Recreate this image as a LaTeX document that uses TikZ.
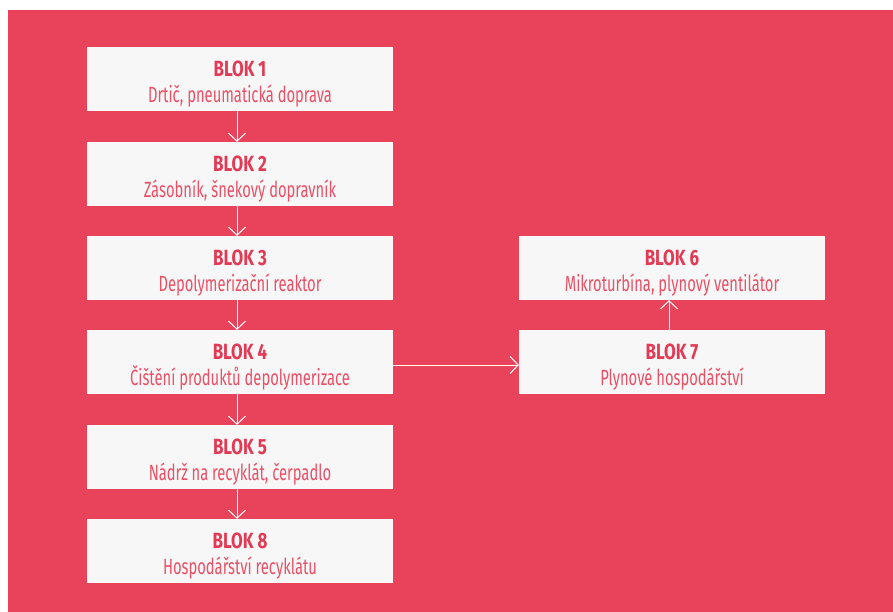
\documentclass[tikz,border=0pt]{standalone}
\usepackage{fontspec}
\setmainfont{Fira Sans}
\usetikzlibrary{arrows.meta}

\definecolor{bgred}{RGB}{232,67,90}
\definecolor{boxgrey}{RGB}{247,247,247}
\definecolor{titlered}{RGB}{226,58,84}
\definecolor{subred}{RGB}{234,80,102}

% condensed look for the box texts
\newcommand{\ttl}[1]{\rule{0pt}{26pt}\scalebox{0.77}[1]{\color{titlered}\bfseries #1}}
\newcommand{\sub}[1]{\scalebox{0.67}[1]{\color{subred}#1}}

\begin{document}
\begin{tikzpicture}[
    x=1pt, y=-1pt,
    blok/.style={
      fill=boxgrey,
      minimum width=306pt,
      minimum height=64pt,
      inner sep=0pt,
      align=center,
      font=\fontsize{22}{26}\selectfont
    },
    flow/.style={
      draw=white,
      line width=1pt,
      -{Straight Barb[length=8pt,width=17pt]}
    }
  ]

    % background
    \useasboundingbox (0,0) rectangle (893,612);
    \fill[bgred] (8,10) rectangle (893,612);

    % left column
    \node[blok] (b1) at (240,79) {\ttl{BLOK 1}\\\sub{Drtič, pneumatická doprava}};
    \node[blok] (b2) at (240,174) {\ttl{BLOK 2}\\\sub{Zásobník, šnekový dopravník}};
    \node[blok] (b3) at (240,268) {\ttl{BLOK 3}\\\sub{Depolymerizační reaktor}};
    \node[blok] (b4) at (240,362) {\ttl{BLOK 4}\\\sub{Čištění produktů depolymerizace}};
    \node[blok] (b5) at (240,457) {\ttl{BLOK 5}\\\sub{Nádrž na recyklát, čerpadlo}};
    \node[blok] (b8) at (240,551) {\ttl{BLOK 8}\\\sub{Hospodářství recyklátu}};

    % right column
    \node[blok] (b6) at (672,268) {\ttl{BLOK 6}\\\sub{Mikroturbína, plynový ventilátor}};
    \node[blok] (b7) at (672,362) {\ttl{BLOK 7}\\\sub{Plynové hospodářství}};

    % connectors
    \draw[flow] ([xshift=-3pt]b1.south) -- ([xshift=-3pt]b2.north);
    \draw[flow] ([xshift=-3pt]b2.south) -- ([xshift=-3pt]b3.north);
    \draw[flow] ([xshift=-3pt]b3.south) -- ([xshift=-3pt]b4.north);
    \draw[flow] ([xshift=-3pt]b4.south) -- ([xshift=-3pt]b5.north);
    \draw[flow] ([xshift=-3pt]b5.south) -- ([xshift=-3pt]b8.north);
    \draw[flow] ([yshift=-3pt]b4.east) -- ([yshift=-3pt]b7.west);
    \draw[flow] ([xshift=-3pt]b7.north) -- ([xshift=-3pt]b6.south);

  \end{tikzpicture}
\end{document}
